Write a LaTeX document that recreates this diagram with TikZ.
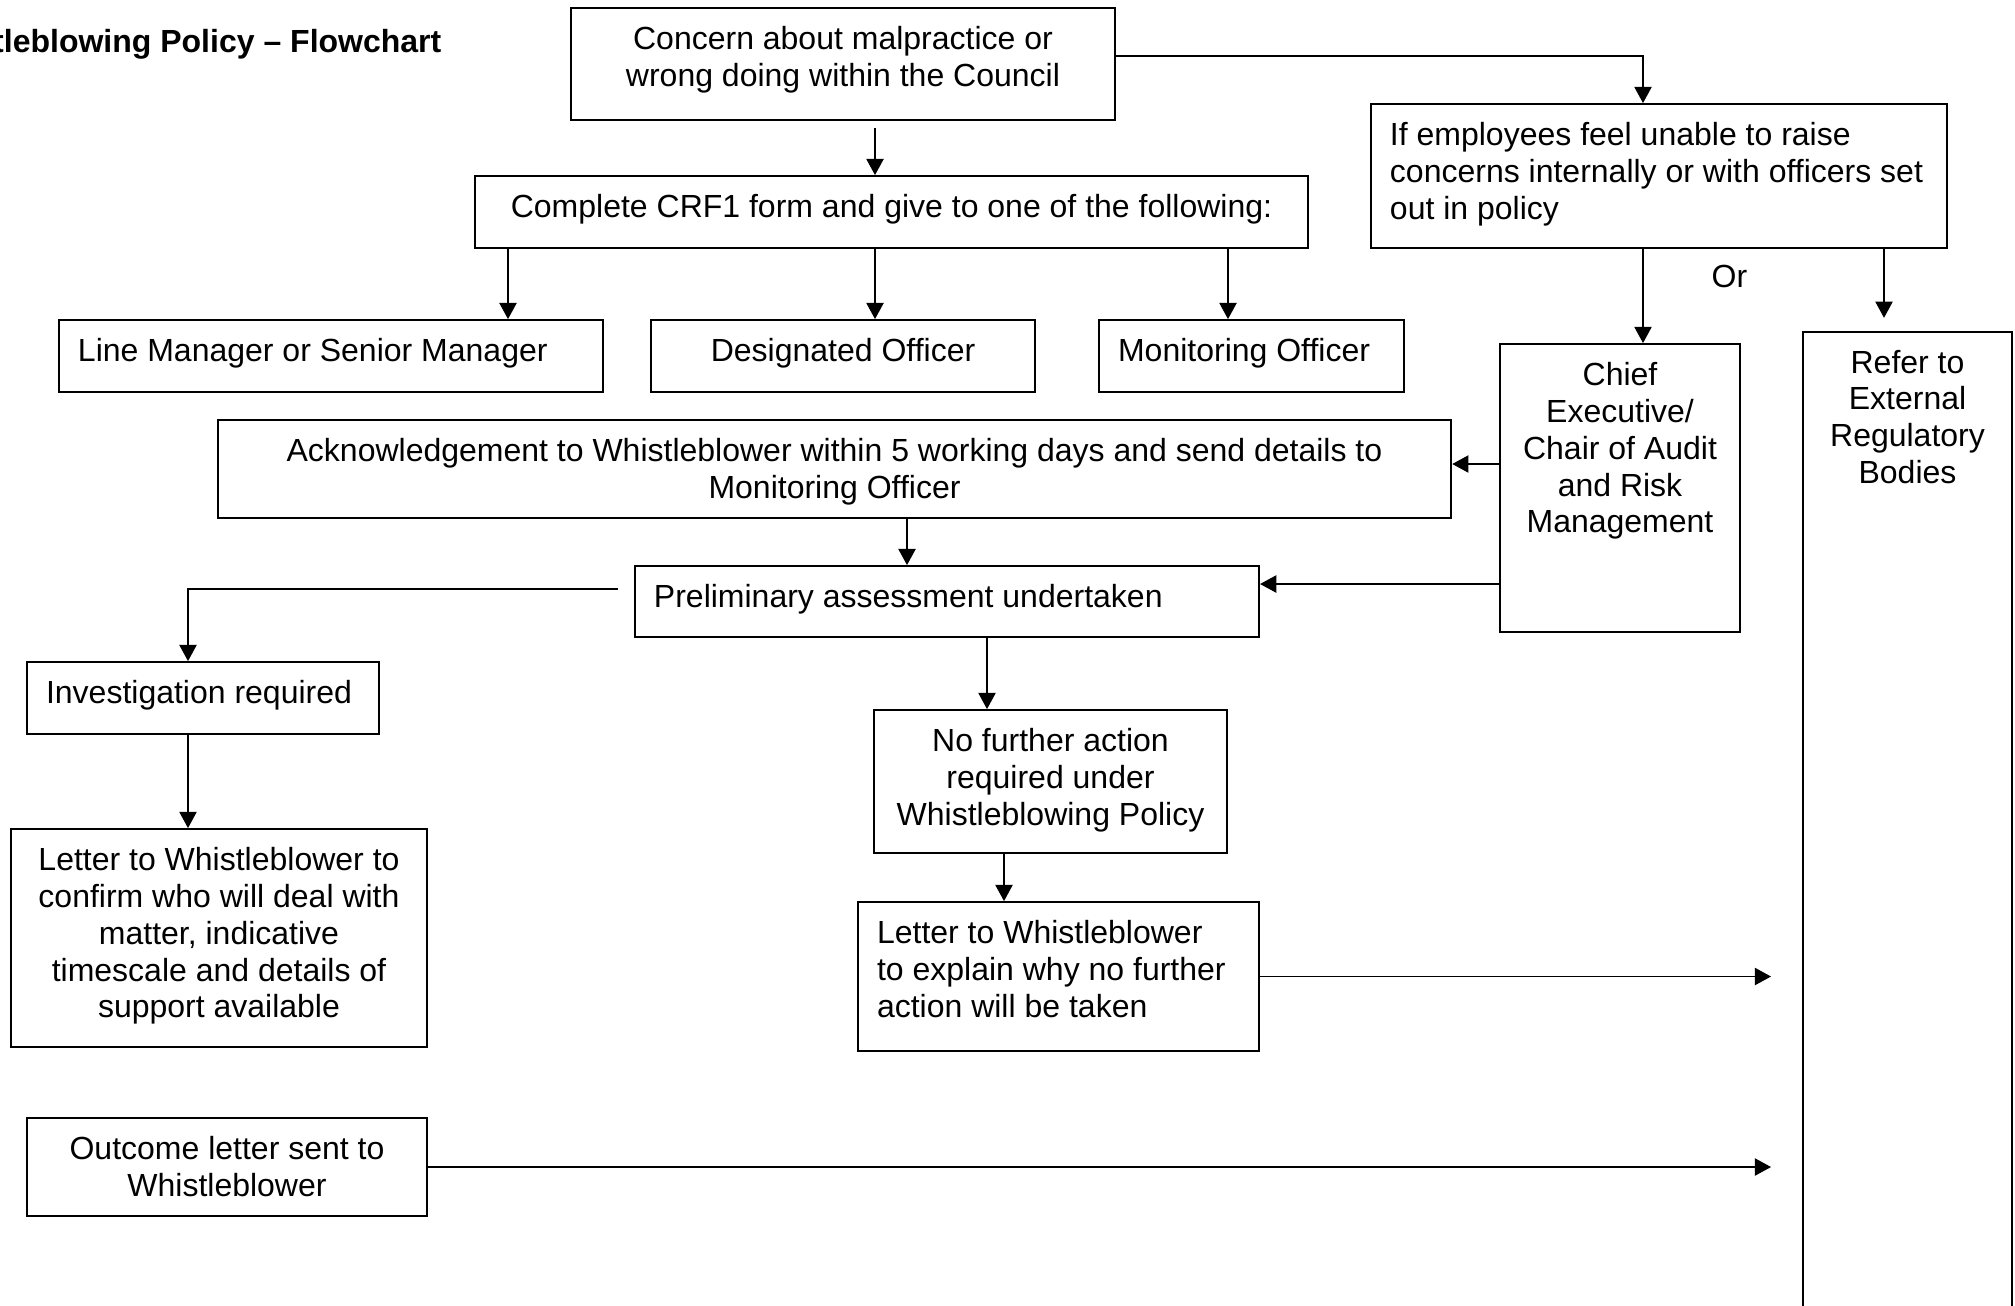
\documentclass[tikz,border=0pt]{standalone}
\usepackage{fontspec}
\setmainfont{Liberation Sans}
\usetikzlibrary{arrows.meta}

\newcommand{\flowfont}{\fontsize{9.1pt}{10.5pt}\selectfont}

\begin{document}
\begin{tikzpicture}[
            x = 0.01cm, y = -0.01cm, % one unit per pixel, y downwards
            box/.style = {draw = black, line width = 0.5pt, inner sep = 0pt}, % plain box
            every label/.style = {font = \flowfont, inner xsep = 0.2cm, inner ysep = 0.19cm, outer sep = 0pt},
            mid text/.style = {anchor = north, align = center},
            left text/.style = {anchor = north west, align = left},
            link/.style = {-{Triangle[width = 4.9pt, length = 4.6pt]}, line width = 0.4pt} % arrow style
        ]

        \useasboundingbox (0,0) rectangle (2015,1305);

        % columns and rows of the connectors
        \coordinate (cA) at (875,0);
        \coordinate (cLM) at (508,0);
        \coordinate (cMO) at (1228,0);
        \coordinate (cIf) at (1643,0);
        \coordinate (cEx) at (1884,0);
        \coordinate (cAck) at (907,0);
        \coordinate (cNo) at (987,0);
        \coordinate (cInv) at (188,0);
        \coordinate (cLet) at (1004,0);
        \coordinate (rTop) at (0,56);
        \coordinate (rAck) at (0,464);
        \coordinate (rPre) at (0,584);
        \coordinate (rInv) at (0,589);

        \node[anchor = base east, inner sep = 0pt, font = \flowfont\bfseries] (title) at (442,52) {Whistleblowing Policy – Flowchart};

        \node[box, minimum width = 5.44cm, minimum height = 1.12cm,
            label = {[mid text]north:{Concern about malpractice or\\wrong doing within the Council}}] (concern) at (843,64) {};
        \node[box, minimum width = 8.33cm, minimum height = 0.72cm,
            label = {[mid text]north:{Complete CRF1 form and give to one of the following:}}] (crf) at (891.5,212) {};
        \node[box, minimum width = 5.44cm, minimum height = 0.72cm,
            label = {[left text]north west:{Line Manager or Senior Manager}}] (lm) at (331,356) {};
        \node[box, minimum width = 3.84cm, minimum height = 0.72cm,
            label = {[mid text]north:{Designated Officer}}] (desig) at (843,356) {};
        \node[box, minimum width = 3.05cm, minimum height = 0.72cm,
            label = {[left text]north west:{Monitoring Officer}}] (monit) at (1251.5,356) {};
        \node[box, minimum width = 5.76cm, minimum height = 1.44cm,
            label = {[left text]north west:{If employees feel unable to raise\\concerns internally or with officers set\\out in policy}}] (ifbox) at (1659,176) {};
        \node[anchor = north west, fill = white, inner xsep = 0.2cm, inner ysep = 0.16cm,
            text width = 0.57cm, align = left, font = \flowfont] (or) at (1691,248.3) {Or};
        \node[box, minimum width = 2.40cm, minimum height = 2.88cm,
            label = {[mid text]north:{Chief\\Executive/\\Chair of Audit\\and Risk\\Management}}] (chief) at (1620,488) {};
        \node[box, minimum width = 2.09cm, minimum height = 10.08cm,
            label = {[mid text]north:{Refer to\\External\\Regulatory\\Bodies}}] (refer) at (1907.5,836) {};
        \node[box, minimum width = 12.33cm, minimum height = 0.98cm,
            label = {[mid text]north:{Acknowledgement to Whistleblower within 5 working days and send details to\\Monitoring Officer}}] (ack) at (834.5,469) {};
        \node[box, minimum width = 6.24cm, minimum height = 0.71cm,
            label = {[left text]north west:{Preliminary assessment undertaken}}] (prelim) at (947,601.5) {};
        \node[box, minimum width = 3.52cm, minimum height = 0.72cm,
            label = {[left text]north west:{Investigation required}}] (invest) at (203,698) {};
        \node[box, minimum width = 3.53cm, minimum height = 1.43cm,
            label = {[mid text]north:{No further action\\required under\\Whistleblowing Policy}}] (nofurther) at (1050.5,781.5) {};
        \node[box, minimum width = 4.16cm, minimum height = 2.18cm,
            label = {[mid text]north:{Letter to Whistleblower to\\confirm who will deal with\\matter, indicative\\timescale and details of\\support available}}] (confirm) at (219,938) {};
        \node[box, minimum width = 4.01cm, minimum height = 1.49cm,
            label = {[left text]north west:{Letter to Whistleblower\\to explain why no further\\action will be taken}}] (explain) at (1058.5,976.5) {};
        \node[box, minimum width = 4.00cm, minimum height = 0.98cm,
            label = {[mid text]north:{Outcome letter sent to\\Whistleblower}}] (outcome) at (227,1167) {};

        \draw[link, shorten <= 0.07cm] (concern.south -| cA) -- (crf.north -| cA);
        \draw[link] (concern.east |- rTop) -| (ifbox.north -| cIf);
        \draw[link] (crf.south -| cLM) -- (lm.north -| cLM);
        \draw[link] (crf.south -| cA) -- (desig.north -| cA);
        \draw[link] (crf.south -| cMO) -- (monit.north -| cMO);
        \draw[link] (ifbox.south -| cIf) -- (chief.north -| cIf);
        \draw[link, shorten >= 0.13cm] (ifbox.south -| cEx) -- (refer.north -| cEx);
        \draw[link] (chief.west |- rAck) -- (ack.east |- rAck);
        \draw[link] (chief.west |- rPre) -- (prelim.east |- rPre);
        \draw[link] (ack.south -| cAck) -- (prelim.north -| cAck);
        \draw[link, shorten <= 0.16cm] (prelim.west |- rInv) -| (invest.north -| cInv);
        \draw[link] (prelim.south -| cNo) -- (nofurther.north -| cNo);
        \draw[link] (invest.south -| cInv) -- (confirm.north -| cInv);
        \draw[link] (nofurther.south -| cLet) -- (explain.north -| cLet);
        \draw[link, shorten >= 0.31cm] (explain.east) -- (explain.east -| refer.west);
        \draw[link, shorten >= 0.31cm] (outcome.east) -- (outcome.east -| refer.west);

    \end{tikzpicture}
\end{document}
